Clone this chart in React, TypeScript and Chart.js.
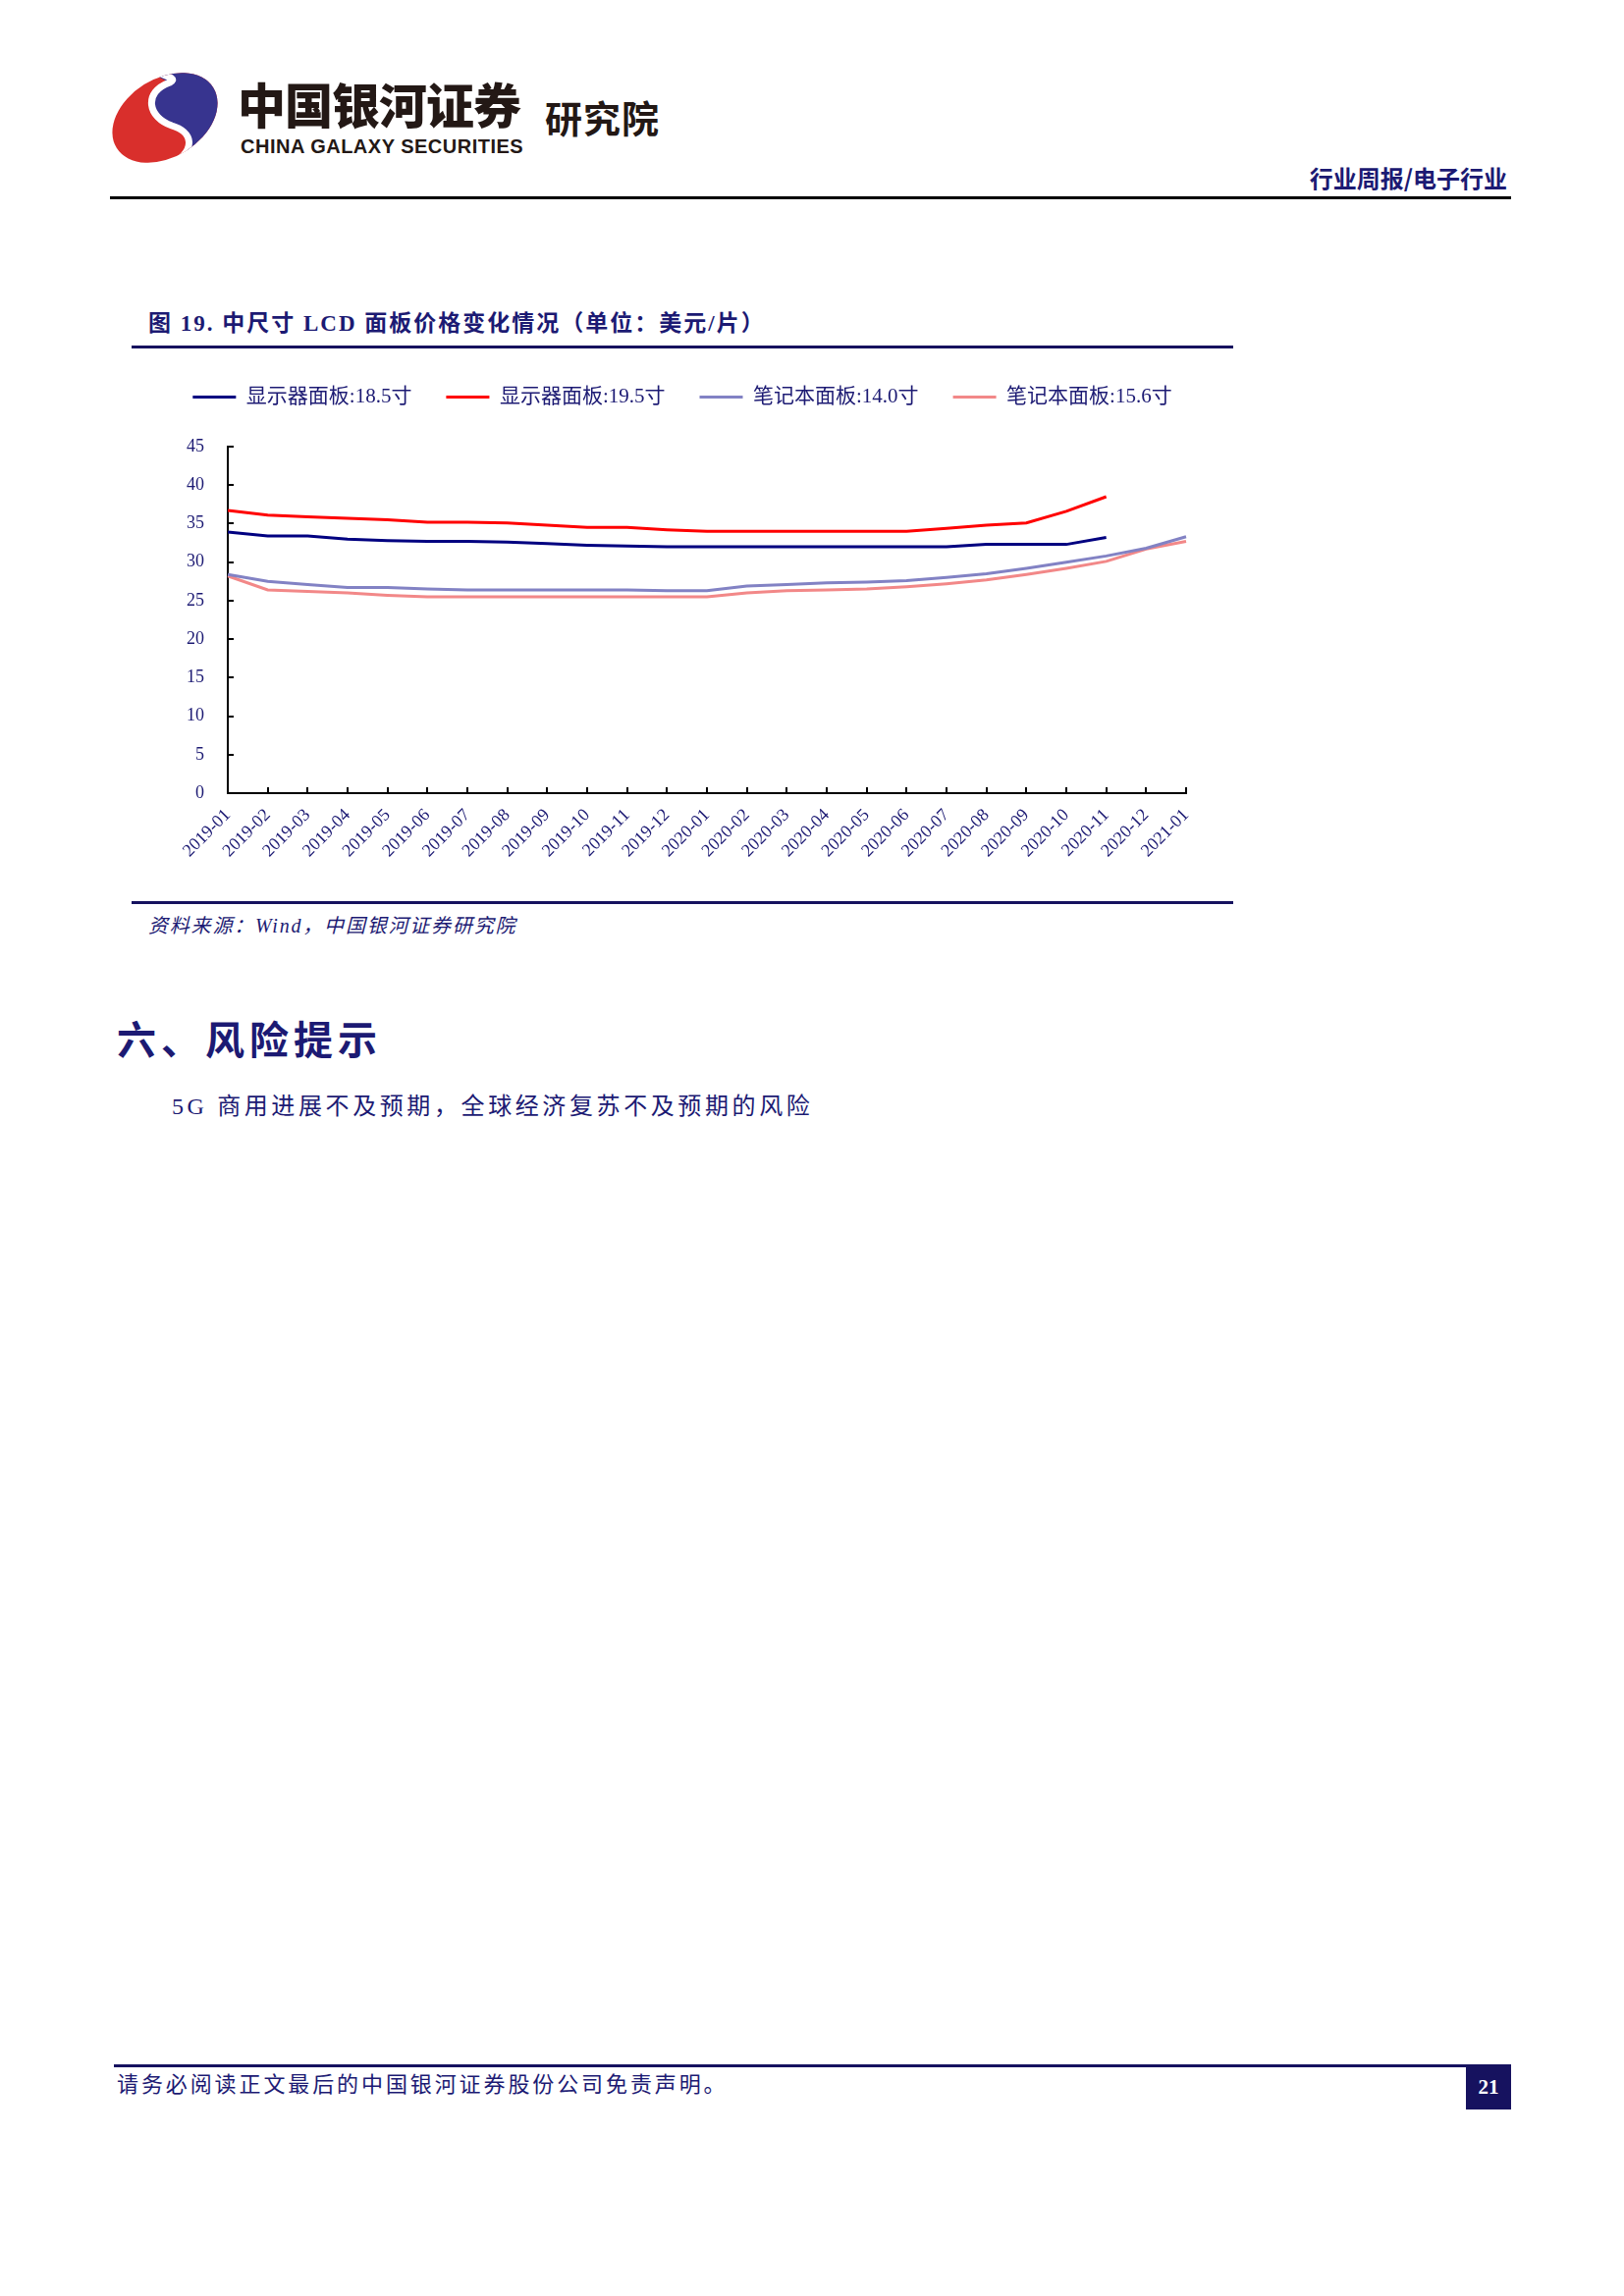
import React, { useEffect, useRef } from 'react';
import { Chart, registerables } from 'chart.js';

Chart.register(...registerables);

// ---------------- data ----------------
const months = [
  '2019-01', '2019-02', '2019-03', '2019-04', '2019-05', '2019-06', '2019-07', '2019-08',
  '2019-09', '2019-10', '2019-11', '2019-12', '2020-01', '2020-02', '2020-03', '2020-04',
  '2020-05', '2020-06', '2020-07', '2020-08', '2020-09', '2020-10', '2020-11', '2020-12', '2021-01',
];

const monitor185 = [
  33.9, 33.4, 33.4, 33.0, 32.8, 32.7, 32.7, 32.6, 32.4, 32.2, 32.1, 32.0,
  32.0, 32.0, 32.0, 32.0, 32.0, 32.0, 32.0, 32.3, 32.3, 32.3, 33.2, null, null,
];

const monitor195 = [
  36.7, 36.1, 35.9, 35.7, 35.5, 35.2, 35.2, 35.1, 34.8, 34.5, 34.5, 34.2,
  34.0, 34.0, 34.0, 34.0, 34.0, 34.0, 34.4, 34.8, 35.1, 36.6, 38.5, null, null,
];

const notebook140 = [
  28.4, 27.5, 27.1, 26.7, 26.7, 26.5, 26.4, 26.4, 26.4, 26.4, 26.4, 26.3,
  26.3, 26.9, 27.1, 27.3, 27.4, 27.6, 28.0, 28.5, 29.2, 30.0, 30.8, 31.8, 33.3,
];

const notebook156 = [
  28.2, 26.4, 26.2, 26.0, 25.7, 25.5, 25.5, 25.5, 25.5, 25.5, 25.5, 25.5,
  25.5, 26.0, 26.3, 26.4, 26.5, 26.8, 27.2, 27.7, 28.4, 29.2, 30.1, 31.7, 32.7,
];

const seriesNames = ['显示器面板:18.5寸', '显示器面板:19.5寸', '笔记本面板:14.0寸', '笔记本面板:15.6寸'];
const seriesColors = ['#000080', '#ff0000', '#8282c4', '#f28888'];

const yMin = 0;
const yMax = 45;
const yStep = 5;

// ---------------- styles ----------------
const NAVY = '#1c1a73';
const SERIF = "'Liberation Serif', 'Times New Roman', 'Noto Sans CJK SC', serif";
const CJK = "'Noto Sans CJK SC', 'Liberation Sans', sans-serif";

const CANVAS_LEFT = 172;
const CANVAS_TOP = 359;
const CANVAS_W = 1050;
const CANVAS_H = 546;
const LEGEND_H = 96;

const legendSpacer = {
  id: 'legendSpacer',
  beforeInit(chart: any) {
    const orig = chart.legend.fit;
    chart.legend.fit = function () {
      this.maxWidth = 2000;
      orig.call(this);
      this.height = LEGEND_H;
    };
  },
  afterLayout(chart: any) {
    const l = chart.legend;
    if (!l) return;
    const c = (l.left + l.right) / 2;
    l.left = c - 700;
    l.right = c + 700;
  },
};

function PriceChart() {
  const ref = useRef<HTMLCanvasElement>(null);
  useEffect(() => {
    const datasets = [monitor185, monitor195, notebook140, notebook156].map((d, i) => ({
      label: seriesNames[i],
      data: d,
      borderColor: seriesColors[i],
      backgroundColor: seriesColors[i],
      borderWidth: 3,
      pointRadius: 0,
      tension: 0,
      fill: false,
      spanGaps: false,
      clip: false as any,
    }));
    const chart = new Chart(ref.current as HTMLCanvasElement, {
      type: 'line',
      data: { labels: months, datasets },
      options: {
        responsive: false,
        maintainAspectRatio: false,
        animation: false,
        layout: { padding: { left: 10, right: CANVAS_W - 10 - 1026, top: 0, bottom: 0 } },
        plugins: {
          legend: {
            position: 'top',
            labels: {
              usePointStyle: true,
              pointStyle: 'line',
              pointStyleWidth: 44,
              padding: 35,
              color: NAVY,
              font: { family: SERIF, size: 21 },
            },
          },
          tooltip: { enabled: false },
        },
        scales: {
          x: {
            type: 'category',
            offset: false,
            grid: { drawOnChartArea: false, color: '#000', lineWidth: 2, tickLength: -6 },
            border: { color: '#000', width: 2 },
            ticks: {
              autoSkip: false,
              maxRotation: 45,
              minRotation: 45,
              padding: 18,
              color: NAVY,
              font: { family: SERIF, size: 18 },
            },
            afterFit: (s: any) => {
              s.height = 97;
              s.paddingLeft = 0;
              s.paddingRight = 0;
            },
          },
          y: {
            min: yMin,
            max: yMax,
            grid: { drawOnChartArea: false, color: '#000', lineWidth: 2, tickLength: -6 },
            border: { color: '#000', width: 2 },
            ticks: {
              stepSize: yStep,
              padding: 30,
              color: NAVY,
              font: { family: SERIF, size: 18 },
            },
            afterFit: (s: any) => {
              s.width = 50;
            },
          },
        },
      },
      plugins: [legendSpacer],
    });
    return () => chart.destroy();
  }, []);
  return (
    <canvas
      ref={ref}
      width={CANVAS_W}
      height={CANVAS_H}
      style={{ position: 'absolute', left: CANVAS_LEFT, top: CANVAS_TOP, width: CANVAS_W, height: CANVAS_H }}
    />
  );
}

function Logo() {
  return (
    <svg
      width={114}
      height={96}
      viewBox="0 0 114 96"
      style={{ position: 'absolute', left: 111, top: 72 }}
    >
      <defs>
        <clipPath id="logoClip">
          <ellipse cx="57" cy="48" rx="58" ry="40" transform="rotate(-32 57 48)" />
        </clipPath>
      </defs>
      <g clipPath="url(#logoClip)">
        <rect x="0" y="0" width="114" height="96" fill="#d92f2c" />
        <path
          d="M36 -4 C 80 -6, 104 2, 114 10 L 114 96 L 62 96 C 92 80, 84 62, 64 56 C 40 48, 34 20, 62 12 C 52 8, 44 2, 36 -4 Z"
          fill="#37348f"
        />
        <path
          d="M40 -2 C 60 6, 70 8, 62 12 C 34 22, 40 48, 64 56 C 84 62, 92 80, 60 98"
          stroke="#ffffff"
          strokeWidth="7"
          fill="none"
        />
      </g>
    </svg>
  );
}

const abs = (s: React.CSSProperties): React.CSSProperties => ({
  position: 'absolute',
  whiteSpace: 'nowrap',
  lineHeight: 1,
  margin: 0,
  ...s,
});

export default function App() {
  useEffect(() => {
    document.body.style.margin = '0';
  }, []);
  return (
    <div style={{ position: 'absolute', left: 0, top: 0, width: 1654, height: 2339, background: '#fff', overflow: 'hidden' }}>
      <Logo />
      <div style={abs({ left: 242, top: 80, fontSize: 49, fontWeight: 900, fontFamily: CJK, color: '#231815', letterSpacing: -1 })}>
        中国银河证券
      </div>
      <div style={abs({ left: 245, top: 139, fontSize: 20, fontWeight: 700, fontFamily: "'Liberation Sans', Arial, sans-serif", color: '#231815', letterSpacing: 0.5 })}>
        CHINA GALAXY SECURITIES
      </div>
      <div style={abs({ left: 555, top: 100, fontSize: 38, fontWeight: 700, fontFamily: CJK, color: '#231815', letterSpacing: 1 })}>
        研究院
      </div>
      <div style={abs({ right: 1654 - 1535, top: 169, fontSize: 24, fontWeight: 700, fontFamily: CJK, color: NAVY })}>
        行业周报/电子行业
      </div>
      <div style={abs({ left: 112, top: 200, width: 1427, height: 3, background: '#000' })} />

      <div style={abs({ left: 151, top: 318, fontSize: 23, fontWeight: 700, fontFamily: SERIF, color: NAVY, letterSpacing: 2 })}>
        图 19. 中尺寸 LCD 面板价格变化情况（单位：美元/片）
      </div>
      <div style={abs({ left: 134, top: 352, width: 1122, height: 3, background: '#16125f' })} />

      <PriceChart />

      <div style={abs({ left: 134, top: 918, width: 1122, height: 3, background: '#16125f' })} />
      <div style={abs({ left: 151, top: 933, fontSize: 20, fontStyle: 'italic', fontFamily: SERIF, color: NAVY, letterSpacing: 1.8 })}>
        资料来源：Wind，中国银河证券研究院
      </div>

      <div style={abs({ left: 119, top: 1037, fontSize: 40, fontWeight: 700, fontFamily: CJK, color: NAVY, letterSpacing: 5 })}>
        六、风险提示
      </div>
      <div style={abs({ left: 175, top: 1115, fontSize: 24, fontFamily: SERIF, color: NAVY, letterSpacing: 3.6 })}>
        5G 商用进展不及预期，全球经济复苏不及预期的风险
      </div>

      <div style={abs({ left: 116, top: 2103, width: 1423, height: 3, background: '#16125f' })} />
      <div style={abs({ left: 119, top: 2113, fontSize: 22, fontFamily: SERIF, color: NAVY, letterSpacing: 2.9 })}>
        请务必阅读正文最后的中国银河证券股份公司免责声明。
      </div>
      <div
        style={abs({
          left: 1493,
          top: 2104,
          width: 46,
          height: 45,
          background: '#16125f',
          color: '#fff',
          fontFamily: SERIF,
          fontWeight: 700,
          fontSize: 21,
          display: 'flex',
          alignItems: 'center',
          justifyContent: 'center',
        })}
      >
        21
      </div>
    </div>
  );
}
